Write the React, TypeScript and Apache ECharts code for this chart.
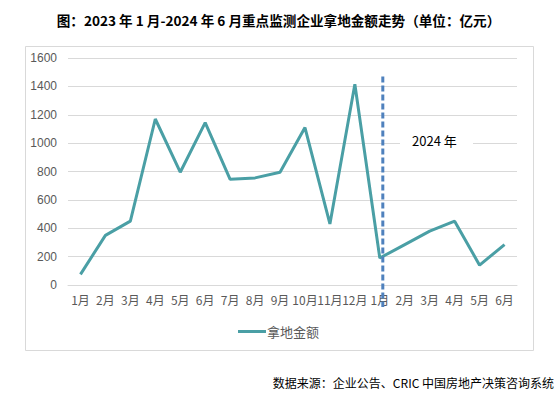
import React, { useEffect, useRef } from "react";
import * as echarts from "echarts";

const categories = ["1月", "2月", "3月", "4月", "5月", "6月", "7月", "8月", "9月", "10月", "11月", "12月", "1月", "2月", "3月", "4月", "5月", "6月"];
const landAmount = [75, 350, 450, 1170, 795, 1145, 745, 755, 795, 1110, 430, 1415, 190, 285, 380, 450, 140, 285];
const yTicks = { min: 0, max: 1600, interval: 200 };
const seriesName = "拿地金额";
const dividerIndex = 12;
const dividerTop = 1470;

export default function App() {
  const ref = useRef<HTMLDivElement>(null);
  useEffect(() => {
    document.body.style.margin = "0";
    const chart = echarts.init(ref.current!, null, { renderer: "svg" });
    chart.setOption({
      animation: false,
      backgroundColor: "#ffffff",
      title: {
        text: "图：2023 年 1 月-2024 年 6 月重点监测企业拿地金额走势（单位：亿元）",
        left: "center",
        top: 8,
        textStyle: { fontFamily: "Noto Sans CJK SC", fontSize: 13.6, fontWeight: "bold", color: "#000" },
      },
      grid: { left: 68, right: 40, top: 58, bottom: 113 },
      legend: {
        data: [seriesName],
        left: "center",
        top: 320,
        icon: "rect",
        itemWidth: 28,
        itemHeight: 3,
        itemGap: 4,
        textStyle: { fontFamily: "Noto Sans CJK SC", fontSize: 13, color: "#595959", padding: [0, 0, 0, -4] },
      },
      xAxis: {
        type: "category",
        data: categories,
        boundaryGap: true,
        axisLine: { lineStyle: { color: "#d9d9d9" } },
        axisTick: { show: false },
        axisLabel: { interval: 0, color: "#595959", fontSize: 12, fontFamily: "Noto Sans CJK SC", margin: 8 },
      },
      yAxis: {
        type: "value",
        min: yTicks.min,
        max: yTicks.max,
        interval: yTicks.interval,
        axisLine: { show: false },
        axisTick: { show: false },
        splitLine: { lineStyle: { color: "#d9d9d9" } },
        axisLabel: { color: "#595959", fontSize: 12, fontFamily: "Liberation Sans", margin: 11, formatter: (v: number) => String(v) },
      },
      series: [
        {
          name: seriesName,
          type: "line",
          data: landAmount,
          symbol: "none",
          lineStyle: { width: 3, color: "#4a9fa5" },
          itemStyle: { color: "#4a9fa5" },
        },
      ],
      graphic: [
        {
          type: "rect",
          left: 23,
          top: 44,
          shape: { width: 508, height: 304 },
          style: { fill: "none", stroke: "#d9d9d9", lineWidth: 1 },
          z: -1,
        },
        {
          type: "rect",
          left: 400,
          top: 136,
          shape: { width: 73, height: 14 },
          style: { fill: "#ffffff" },
          z: 10,
        },
        {
          type: "text",
          left: 412,
          top: 134,
          style: { text: "2024 年", fill: "#000", font: "13px 'Noto Sans CJK SC'" },
          z: 11,
        },
        {
          type: "text",
          right: 3,
          top: 376,
          style: { text: "数据来源：企业公告、CRIC 中国房地产决策咨询系统", fill: "#000", font: "12px 'Noto Sans CJK SC'" },
        },
      ],
    });
    const x = chart.convertToPixel({ xAxisIndex: 0 }, dividerIndex) + 3;
    const yTop = chart.convertToPixel({ yAxisIndex: 0 }, dividerTop);
    const yZero = chart.convertToPixel({ yAxisIndex: 0 }, 0);
    chart.setOption({
      graphic: [
        {
          id: "divider",
          type: "line",
          shape: { x1: x, y1: yTop, x2: x, y2: yZero + 22 },
          style: { stroke: "#4f81bd", lineWidth: 3, lineDash: [6, 3] },
          z: 12,
        },
      ],
    });
    return () => chart.dispose();
  }, []);
  return <div ref={ref} style={{ width: 557, height: 398 }} />;
}
